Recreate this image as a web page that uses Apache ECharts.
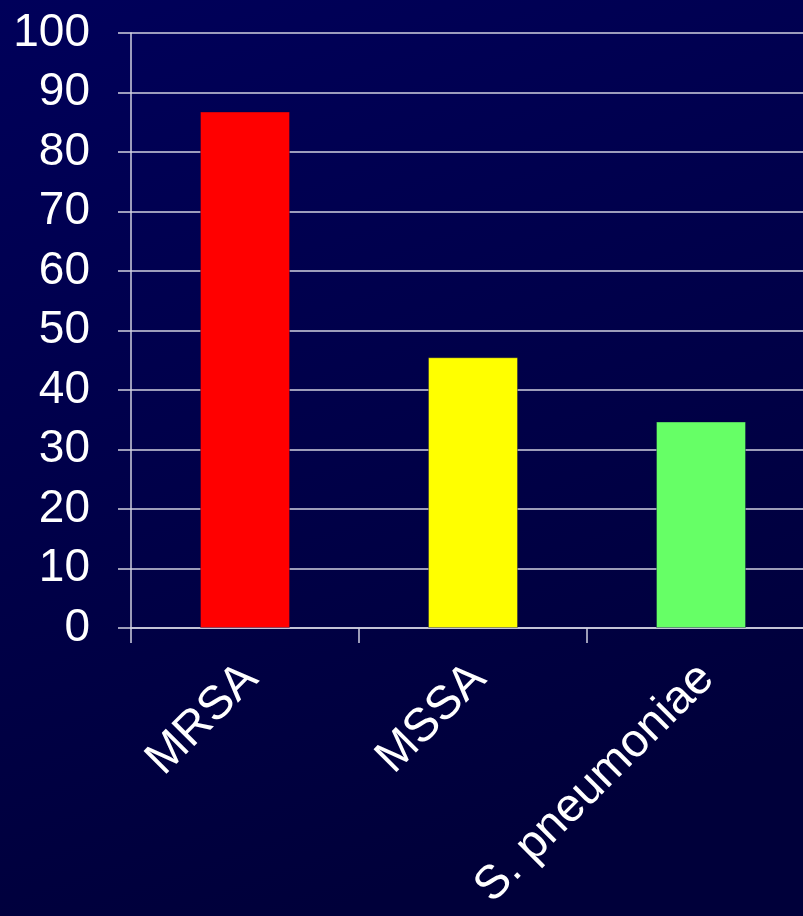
<!DOCTYPE html>
<html>
<head>
<meta charset="utf-8">
<style>
  html, body { margin: 0; padding: 0; background: #00004a; }
  #chart { width: 803px; height: 916px; }
</style>
<script src="https://cdn.jsdelivr.net/npm/echarts@6/dist/echarts.min.js"></script>
</head>
<body>
<div id="chart"></div>
<script>
// Organisms on the category axis
const categories = ['MRSA', 'MSSA', 'S. pneumoniae'];
// Bar heights (percent)
const values = [86.8, 45.5, 34.7];
// Fill colour of each bar
const barColors = ['#ff0000', '#ffff00', '#66ff66'];
// Value axis range and step
const yMin = 0;
const yMax = 100;
const yStep = 10;

const lineColor = '#d0d0e0';
const fontFamily = '"Liberation Sans", Arial, Helvetica, sans-serif';

const chart = echarts.init(document.getElementById('chart'), null, { renderer: 'canvas' });

chart.setOption({
  animation: false,
  backgroundColor: new echarts.graphic.LinearGradient(0, 0, 0.4, 1, [
    { offset: 0, color: '#00005a' },
    { offset: 1, color: '#00003a' }
  ]),
  grid: {
    left: 131,
    top: 33,
    bottom: 288,
    width: 684,
    containLabel: false,
    outerBoundsMode: 'none'
  },
  xAxis: {
    type: 'category',
    data: categories,
    boundaryGap: true,
    axisLine: { show: true, lineStyle: { color: lineColor, width: 1.5 } },
    axisTick: { show: true, length: 15, alignWithLabel: false, lineStyle: { color: lineColor, width: 1.5 } },
    axisLabel: {
      rotate: 45,
      margin: 49,
      padding: [0, -8, 0, 0],
      color: '#ffffff',
      fontSize: 47,
      fontFamily: fontFamily,
      interval: 0
    },
    splitLine: { show: false }
  },
  yAxis: {
    type: 'value',
    min: yMin,
    max: yMax,
    interval: yStep,
    axisLine: { show: true, lineStyle: { color: lineColor, width: 1.5 } },
    axisTick: { show: true, length: 13, lineStyle: { color: lineColor, width: 1.5 } },
    axisLabel: {
      margin: 41,
      color: '#ffffff',
      fontSize: 46,
      fontFamily: fontFamily
    },
    splitLine: { show: true, lineStyle: { color: lineColor, width: 1.5 } }
  },
  series: [{
    type: 'bar',
    data: values.map((v, i) => ({ value: v, itemStyle: { color: barColors[i] } })),
    barWidth: 90,
    itemStyle: { borderColor: 'rgba(0,0,60,0.35)', borderWidth: 1 }
  }]
});
</script>
</body>
</html>
